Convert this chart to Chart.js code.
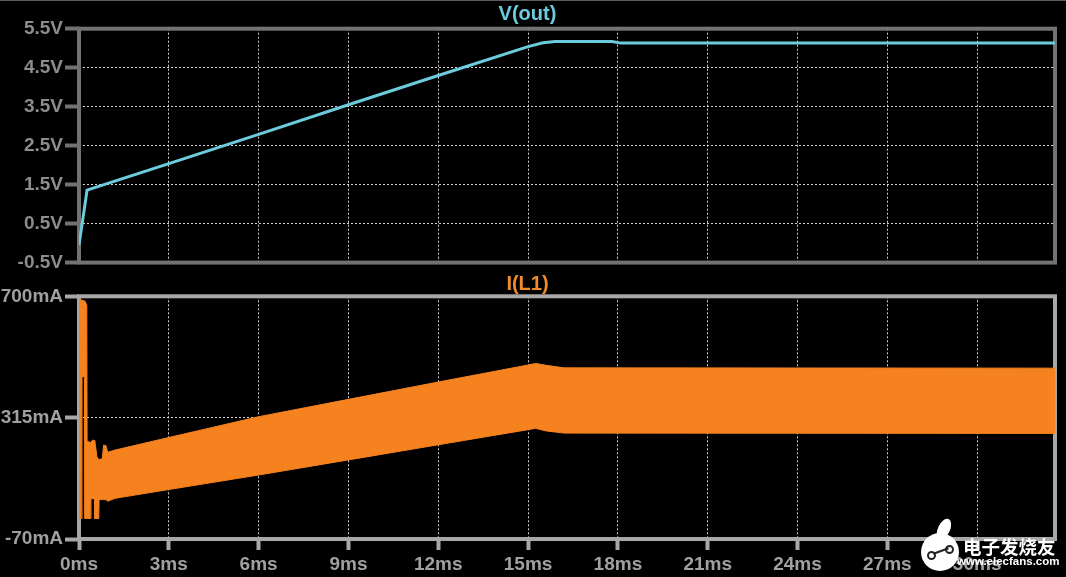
<!DOCTYPE html>
<html>
<head>
<meta charset="utf-8">
<script src="https://cdn.jsdelivr.net/npm/chart.js@4.4.0/dist/chart.umd.min.js"></script>
<style>
    html, body { margin: 0; padding: 0; background: #000; }
    body { width: 1066px; height: 577px; position: relative; overflow: hidden; }
    .pane { position: absolute; left: 0; width: 1066px; }
    #topLine { position: absolute; left: 0; top: 0; width: 1066px; height: 1px; background: #5c5c5c; }
    #logo { position: absolute; left: 921px; top: 533px; width: 38px; height: 38px; border-radius: 50%; background: #fff; z-index: 5; }
    #logoTail { position: absolute; left: 938px; top: 518px; width: 12px; height: 22px; border-radius: 50% 50% 50% 50%; background: #fff; transform: rotate(25deg); z-index: 5; }
    .dot { position: absolute; width: 5px; height: 5px; border: 2px solid #222; border-radius: 50%; background: #fff; }
    .bar { position: absolute; left: 12px; top: 17px; width: 16px; height: 2px; background: #222; transform: rotate(-20deg); }
    #wmCn { position: absolute; left: 963px; top: 533px; font: bold 18.5px "Noto Sans CJK SC", sans-serif; color: #fff; z-index: 5; }
    #wmEn { position: absolute; left: 957px; top: 555px; font: bold 11.5px "Liberation Sans", sans-serif; color: #fff; z-index: 5; }
</style>
</head>
<body>
<div id="topLine"></div>
<div class="pane" style="top:0; height:276px;"><canvas id="voutChart"></canvas></div>
<div class="pane" style="top:272px; height:305px;"><canvas id="ilChart"></canvas></div>
<div id="logoTail"></div>
<div id="logo"><div class="dot" style="left:6px; top:18px;"></div><div class="dot" style="left:24px; top:12px;"></div><div class="bar"></div></div>
<div id="wmCn">电子发烧友</div>
<div id="wmEn">www.elecfans.com</div>
<script>
// Данные

const timeTicks = [0, 3, 6, 9, 12, 15, 18, 21, 24, 27, 30];
const vTicks = [-0.5, 0.5, 1.5, 2.5, 3.5, 4.5, 5.5];
const iTicks = [-70, 315, 700];

// V(out), В
const vTime = [0, 0.03, 0.27, 3, 6, 9, 12, 15, 15.5, 15.9, 17.8, 18.1, 32.6];
const vOut = [-0.05, -0.05, 1.36, 2.04, 2.79, 3.55, 4.30, 5.04, 5.14, 5.17, 5.17, 5.13, 5.13];

// I(L1), мА: огибающая пульсаций (макс/мин)
const iTime = [0, 0.09, 0.1, 0.19, 0.2, 0.26, 0.27, 0.39, 0.4, 0.46, 0.52, 0.53, 0.6, 0.66, 0.67, 0.78, 0.82, 0.9, 0.96, 1.2, 3, 6, 9, 12, 15, 15.25, 15.6, 16.2, 32.6];
const iMax = [690, 688, 688, 685, 684, 672, 240, 236, 236, 244, 242, 240, 190, 182, 182, 185, 228, 226, 205, 212, 252, 318, 373, 428, 482, 487, 481, 473, 472];
const iMin = [-5, -5, 445, 445, -5, -5, -5, -5, 58, 58, 58, -5, -5, -5, 55, 55, 55, 55, 50, 59, 87, 133, 181, 229, 277, 281, 273, 266, 265];

const xMax = 32.6;

Chart.defaults.font.family = '"Liberation Sans", Arial, sans-serif';
Chart.defaults.animation = false;

// Рамка вокруг области графика
const framePlugin = {
    id: 'frame',
    beforeDatasetsDraw(chart, args, opts) {
        const { ctx, chartArea: a } = chart;
        ctx.save();
        ctx.strokeStyle = opts.color;
        ctx.lineWidth = opts.width;
        ctx.strokeRect(a.left, a.top, a.right - a.left, a.bottom - a.top);
        ctx.restore();
    }
};

const gridDots = 'rgba(235, 235, 235, 0.9)';
const toPoints = (xs, ys) => xs.map((x, i) => ({ x: x, y: ys[i] }));

// Верхний график: V(out)

const voutConfig = {
    type: 'line',
    data: {
        datasets: [{
            label: 'V(out)',
            data: toPoints(vTime, vOut),
            borderColor: '#6ccbdc',
            borderWidth: 3,
            pointRadius: 0,
            tension: 0,
        }]
    },
    options: {
        responsive: true,
        maintainAspectRatio: false,
        layout: { padding: { left: 0, right: 11, top: 0, bottom: 0 } },
        plugins: {
            legend: { display: false },
            tooltip: { enabled: false },
            title: {
                display: true,
                text: 'V(out)',
                color: '#6ccbdc',
                font: { size: 20, weight: 'bold' },
                padding: { top: 2, bottom: 2.7 },
            },
            frame: { color: '#727272', width: 4 },
        },
        scales: {
            x: {
                type: 'linear',
                min: 0,
                max: xMax,
                afterBuildTicks: s => { s.ticks = timeTicks.map(v => ({ value: v })); },
                afterFit: s => { s.height = 9; },
                ticks: { display: false },
                grid: { color: gridDots, lineWidth: 1, drawTicks: false },
                border: { display: false, dash: [2, 2] },
            },
            y: {
                min: -0.5,
                max: 5.5,
                afterBuildTicks: s => { s.ticks = vTicks.map(v => ({ value: v })); },
                afterFit: s => { s.width = 79; },
                ticks: {
                    color: '#8c8c8c',
                    font: { size: 19, weight: 'bold' },
                    padding: 2,
                    callback: v => v + 'V',
                },
                grid: { color: gridDots, lineWidth: 1, tickLength: 14, tickWidth: 4, tickColor: '#727272', tickBorderDash: [] },
                border: { display: false, dash: [2, 2] },
            },
        },
    },
    plugins: [framePlugin],
};

new Chart(document.getElementById('voutChart'), voutConfig);

// Нижний график: I(L1)

const orange = '#f5821f';

const ilConfig = {
    type: 'line',
    data: {
        datasets: [
            {
                label: 'I(L1) max',
                data: toPoints(iTime, iMax),
                borderColor: orange,
                backgroundColor: orange,
                borderWidth: 1,
                pointRadius: 0,
                tension: 0,
                fill: '+1',
            },
            {
                label: 'I(L1) min',
                data: toPoints(iTime, iMin),
                borderColor: orange,
                borderWidth: 1,
                pointRadius: 0,
                tension: 0,
                fill: false,
            }
        ]
    },
    options: {
        responsive: true,
        maintainAspectRatio: false,
        layout: { padding: { left: 0, right: 11, top: 0, bottom: 0 } },
        plugins: {
            legend: { display: false },
            tooltip: { enabled: false },
            title: {
                display: true,
                text: 'I(L1)',
                color: '#f08a2a',
                font: { size: 20, weight: 'bold' },
                padding: { top: 0, bottom: 0.3 },
            },
            frame: { color: '#a8a8a8', width: 4 },
        },
        scales: {
            x: {
                type: 'linear',
                min: 0,
                max: xMax,
                afterBuildTicks: s => { s.ticks = timeTicks.map(v => ({ value: v })); },
                afterFit: s => { s.height = 38; },
                ticks: {
                    color: '#a0a0a0',
                    font: { size: 19, weight: 'bold' },
                    padding: 3,
                    maxRotation: 0,
                    autoSkip: false,
                    callback: v => v + 'ms',
                },
                grid: { color: gridDots, lineWidth: 1, tickLength: 11, tickWidth: 4, tickColor: '#a8a8a8', tickBorderDash: [] },
                border: { display: false, dash: [2, 2] },
            },
            y: {
                min: -70,
                max: 700,
                afterBuildTicks: s => { s.ticks = iTicks.map(v => ({ value: v })); },
                afterFit: s => { s.width = 79; },
                ticks: {
                    color: '#a0a0a0',
                    font: { size: 19, weight: 'bold' },
                    padding: 2,
                    callback: v => v + 'mA',
                },
                grid: { color: gridDots, lineWidth: 1, tickLength: 14, tickWidth: 4, tickColor: '#a8a8a8', tickBorderDash: [] },
                border: { display: false, dash: [2, 2] },
            },
        },
    },
    plugins: [framePlugin],
};

new Chart(document.getElementById('ilChart'), ilConfig);
</script>
</body>
</html>
